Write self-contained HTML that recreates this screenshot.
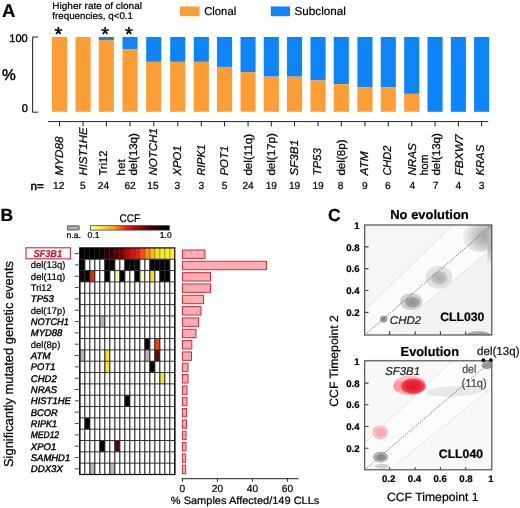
<!DOCTYPE html>
<html lang="en">
<head>
<meta charset="utf-8">
<title>Figure: clonal and subclonal driver events in CLL</title>
<style>
html,body{margin:0;padding:0;background:#fff;}
body{width:520px;height:508px;overflow:hidden;}
svg{display:block;font-family:"Liberation Sans", Arial, Helvetica, sans-serif;text-rendering:geometricPrecision;filter:blur(0.35px);}
text{stroke-width:0.22px;}
</style>
</head>
<body>
<svg width="520" height="508" viewBox="0 0 520 508">
<defs>
<linearGradient id="ccf" x1="0" x2="1" y1="0" y2="0">
<stop offset="0" stop-color="#fdfdc8"/><stop offset="0.12" stop-color="#f8f040"/>
<stop offset="0.3" stop-color="#f8a018"/><stop offset="0.45" stop-color="#f02010"/>
<stop offset="0.62" stop-color="#900808"/><stop offset="0.8" stop-color="#300000"/>
<stop offset="1" stop-color="#000"/></linearGradient>
<radialGradient id="gA" cx="0.68" cy="0.5" r="0.62"><stop offset="0" stop-color="#a6a6a6"/><stop offset="0.45" stop-color="#c2c2c2"/><stop offset="0.85" stop-color="#e2e2e2"/><stop offset="1" stop-color="#ececec"/></radialGradient>
<linearGradient id="gE" x1="0" x2="0" y1="0" y2="1"><stop offset="0" stop-color="#b4b4b4"/><stop offset="0.6" stop-color="#bcbcbc"/><stop offset="1" stop-color="#f1f1f1"/></linearGradient>
<radialGradient id="gR"><stop offset="0" stop-color="#e6182a"/><stop offset="0.6" stop-color="#ea2436"/><stop offset="0.85" stop-color="#f04454"/><stop offset="1" stop-color="#f4707c"/></radialGradient>
<radialGradient id="gB"><stop offset="0" stop-color="#ababab"/><stop offset="1" stop-color="#c6c6c6"/></radialGradient>
<radialGradient id="gC"><stop offset="0" stop-color="#909090"/><stop offset="1" stop-color="#a8a8a8"/></radialGradient>
</defs>
<rect width="520" height="508" fill="#fff"/>
<g id="panelA">
<text x="2" y="17" font-size="18.5" font-weight="bold" stroke="#000">A</text>
<text x="52.3" y="8.8" font-size="9.6" stroke="#000" textLength="89.7" lengthAdjust="spacingAndGlyphs">Higher rate of clonal</text>
<text x="52.3" y="19.4" font-size="9.6" stroke="#000" textLength="80.7" lengthAdjust="spacingAndGlyphs">frequencies, q&lt;0.1</text>
<rect x="180" y="6.5" width="19.6" height="9.7" fill="#FD9D36"/>
<text x="204.2" y="14.7" font-size="11.3" stroke="#000" textLength="32" lengthAdjust="spacingAndGlyphs">Clonal</text>
<rect x="270.8" y="6.5" width="19.2" height="9.7" fill="#0D84F8"/>
<text x="294.6" y="14.7" font-size="11.5" stroke="#000" textLength="51.2" lengthAdjust="spacingAndGlyphs">Subclonal</text>
<path d="M38.2 37 H32.6 V112.2 H38.2" fill="none" stroke="#222" stroke-width="1"/>
<text x="27.7" y="42.2" font-size="11" text-anchor="end" stroke="#000" style="stroke-width:0.4px">100</text>
<text x="27.9" y="112" font-size="11" text-anchor="end" stroke="#000" style="stroke-width:0.4px">0</text>
<text x="2" y="79.5" font-size="15.5" stroke="#000" style="stroke-width:0.45px">%</text>
<path d="M48 121.6 H488.2" fill="none" stroke="#222" stroke-width="1"/>
<rect x="52.00" y="37.00" width="15.1" height="74.80" fill="#FD9D36"/>
<path d="M59.55 121.6 V126.5" stroke="#222" stroke-width="1"/>
<text x="58.35" y="40.8" font-size="20" text-anchor="middle" stroke="#000" style="stroke-width:0.4px">*</text>
<text x="63.15" y="175.6" font-size="11.3" font-style="italic" stroke="#000" transform="rotate(-90 63.15 175.6)" textLength="39.2" lengthAdjust="spacingAndGlyphs">MYD88</text>
<text x="58.75" y="189.3" font-size="10.2" text-anchor="middle" stroke="#000">12</text>
<rect x="75.50" y="37.00" width="15.1" height="74.80" fill="#FD9D36"/>
<path d="M83.05 121.6 V126.5" stroke="#222" stroke-width="1"/>
<text x="86.65" y="175.6" font-size="11.3" font-style="italic" stroke="#000" transform="rotate(-90 86.65 175.6)" textLength="48.2" lengthAdjust="spacingAndGlyphs">HIST1HE</text>
<text x="82.75" y="189.3" font-size="10.2" text-anchor="middle" stroke="#000">5</text>
<rect x="98.80" y="37.0" width="15.1" height="2.99" fill="#0D84F8"/>
<rect x="98.80" y="39.99" width="15.1" height="71.81" fill="#FD9D36"/>
<path d="M106.35 121.6 V126.5" stroke="#222" stroke-width="1"/>
<text x="105.15" y="40.8" font-size="20" text-anchor="middle" stroke="#000" style="stroke-width:0.4px">*</text>
<text x="107.25" y="175.6" font-size="11.3" stroke="#000" transform="rotate(-90 107.25 175.6)" textLength="25" lengthAdjust="spacingAndGlyphs">Tri12</text>
<text x="103.45" y="189.3" font-size="10.2" text-anchor="middle" stroke="#000">24</text>
<rect x="122.50" y="37.0" width="15.1" height="11.97" fill="#0D84F8"/>
<rect x="122.50" y="48.97" width="15.1" height="62.83" fill="#FD9D36"/>
<path d="M130.05 121.6 V126.5" stroke="#222" stroke-width="1"/>
<text x="128.85" y="40.8" font-size="20" text-anchor="middle" stroke="#000" style="stroke-width:0.4px">*</text>
<text x="125.05" y="175.6" font-size="11.3" stroke="#000" transform="rotate(-90 125.05 175.6)" textLength="16.3" lengthAdjust="spacingAndGlyphs">het</text>
<text x="136.65" y="175.6" font-size="11.3" stroke="#000" transform="rotate(-90 136.65 175.6)" textLength="42.5" lengthAdjust="spacingAndGlyphs">del(13q)</text>
<text x="130.05" y="189.3" font-size="10.2" text-anchor="middle" stroke="#000">62</text>
<rect x="146.20" y="37.0" width="15.1" height="24.83" fill="#0D84F8"/>
<rect x="146.20" y="61.83" width="15.1" height="49.97" fill="#FD9D36"/>
<path d="M153.75 121.6 V126.5" stroke="#222" stroke-width="1"/>
<text x="157.35" y="175.6" font-size="11.3" font-style="italic" stroke="#000" transform="rotate(-90 157.35 175.6)" textLength="47.5" lengthAdjust="spacingAndGlyphs">NOTCH1</text>
<text x="152.95" y="189.3" font-size="10.2" text-anchor="middle" stroke="#000">15</text>
<rect x="170.20" y="37.0" width="15.1" height="24.83" fill="#0D84F8"/>
<rect x="170.20" y="61.83" width="15.1" height="49.97" fill="#FD9D36"/>
<path d="M177.75 121.6 V126.5" stroke="#222" stroke-width="1"/>
<text x="181.35" y="175.6" font-size="11.3" font-style="italic" stroke="#000" transform="rotate(-90 181.35 175.6)" textLength="30" lengthAdjust="spacingAndGlyphs">XPO1</text>
<text x="177.35" y="189.3" font-size="10.2" text-anchor="middle" stroke="#000">3</text>
<rect x="193.75" y="37.0" width="15.1" height="24.83" fill="#0D84F8"/>
<rect x="193.75" y="61.83" width="15.1" height="49.97" fill="#FD9D36"/>
<path d="M201.30 121.6 V126.5" stroke="#222" stroke-width="1"/>
<text x="204.90" y="175.6" font-size="11.3" font-style="italic" stroke="#000" transform="rotate(-90 204.90 175.6)" textLength="31.2" lengthAdjust="spacingAndGlyphs">RIPK1</text>
<text x="201.30" y="189.3" font-size="10.2" text-anchor="middle" stroke="#000">3</text>
<rect x="217.00" y="37.0" width="15.1" height="29.92" fill="#0D84F8"/>
<rect x="217.00" y="66.92" width="15.1" height="44.88" fill="#FD9D36"/>
<path d="M224.55 121.6 V126.5" stroke="#222" stroke-width="1"/>
<text x="228.15" y="175.6" font-size="11.3" font-style="italic" stroke="#000" transform="rotate(-90 228.15 175.6)" textLength="30" lengthAdjust="spacingAndGlyphs">POT1</text>
<text x="224.55" y="189.3" font-size="10.2" text-anchor="middle" stroke="#000">5</text>
<rect x="240.50" y="37.0" width="15.1" height="35.16" fill="#0D84F8"/>
<rect x="240.50" y="72.16" width="15.1" height="39.64" fill="#FD9D36"/>
<path d="M248.05 121.6 V126.5" stroke="#222" stroke-width="1"/>
<text x="251.55" y="175.6" font-size="11.3" stroke="#000" transform="rotate(-90 251.55 175.6)" textLength="41.8" lengthAdjust="spacingAndGlyphs">del(11q)</text>
<text x="248.05" y="189.3" font-size="10.2" text-anchor="middle" stroke="#000">24</text>
<rect x="263.75" y="37.0" width="15.1" height="39.64" fill="#0D84F8"/>
<rect x="263.75" y="76.64" width="15.1" height="35.16" fill="#FD9D36"/>
<path d="M271.30 121.6 V126.5" stroke="#222" stroke-width="1"/>
<text x="274.60" y="175.6" font-size="11.3" stroke="#000" transform="rotate(-90 274.60 175.6)" textLength="42.5" lengthAdjust="spacingAndGlyphs">del(17p)</text>
<text x="271.30" y="189.3" font-size="10.2" text-anchor="middle" stroke="#000">19</text>
<rect x="287.00" y="37.0" width="15.1" height="39.64" fill="#0D84F8"/>
<rect x="287.00" y="76.64" width="15.1" height="35.16" fill="#FD9D36"/>
<path d="M294.55 121.6 V126.5" stroke="#222" stroke-width="1"/>
<text x="298.15" y="175.6" font-size="11.3" font-style="italic" stroke="#000" transform="rotate(-90 298.15 175.6)" textLength="35.8" lengthAdjust="spacingAndGlyphs">SF3B1</text>
<text x="294.55" y="189.3" font-size="10.2" text-anchor="middle" stroke="#000">19</text>
<rect x="310.50" y="37.0" width="15.1" height="43.38" fill="#0D84F8"/>
<rect x="310.50" y="80.38" width="15.1" height="31.42" fill="#FD9D36"/>
<path d="M318.05 121.6 V126.5" stroke="#222" stroke-width="1"/>
<text x="321.45" y="175.6" font-size="11.3" font-style="italic" stroke="#000" transform="rotate(-90 321.45 175.6)" textLength="27.5" lengthAdjust="spacingAndGlyphs">TP53</text>
<text x="318.05" y="189.3" font-size="10.2" text-anchor="middle" stroke="#000">19</text>
<rect x="333.75" y="37.0" width="15.1" height="47.12" fill="#0D84F8"/>
<rect x="333.75" y="84.12" width="15.1" height="27.68" fill="#FD9D36"/>
<path d="M341.30 121.6 V126.5" stroke="#222" stroke-width="1"/>
<text x="344.60" y="175.6" font-size="11.3" stroke="#000" transform="rotate(-90 344.60 175.6)" textLength="36.2" lengthAdjust="spacingAndGlyphs">del(8p)</text>
<text x="340.60" y="189.3" font-size="10.2" text-anchor="middle" stroke="#000">8</text>
<rect x="357.40" y="37.0" width="15.1" height="50.12" fill="#0D84F8"/>
<rect x="357.40" y="87.12" width="15.1" height="24.68" fill="#FD9D36"/>
<path d="M364.95 121.6 V126.5" stroke="#222" stroke-width="1"/>
<text x="367.95" y="175.6" font-size="11.3" font-style="italic" stroke="#000" transform="rotate(-90 367.95 175.6)" textLength="24.2" lengthAdjust="spacingAndGlyphs">ATM</text>
<text x="364.95" y="189.3" font-size="10.2" text-anchor="middle" stroke="#000">9</text>
<rect x="380.75" y="37.0" width="15.1" height="50.12" fill="#0D84F8"/>
<rect x="380.75" y="87.12" width="15.1" height="24.68" fill="#FD9D36"/>
<path d="M388.30 121.6 V126.5" stroke="#222" stroke-width="1"/>
<text x="391.50" y="175.6" font-size="11.3" font-style="italic" stroke="#000" transform="rotate(-90 391.50 175.6)" textLength="30" lengthAdjust="spacingAndGlyphs">CHD2</text>
<text x="387.80" y="189.3" font-size="10.2" text-anchor="middle" stroke="#000">6</text>
<rect x="404.20" y="37.0" width="15.1" height="56.85" fill="#0D84F8"/>
<rect x="404.20" y="93.85" width="15.1" height="17.95" fill="#FD9D36"/>
<path d="M411.75 121.6 V126.5" stroke="#222" stroke-width="1"/>
<text x="415.95" y="175.6" font-size="11.3" font-style="italic" stroke="#000" transform="rotate(-90 415.95 175.6)" textLength="32.5" lengthAdjust="spacingAndGlyphs">NRAS</text>
<text x="412.45" y="189.3" font-size="10.2" text-anchor="middle" stroke="#000">4</text>
<rect x="427.50" y="37.0" width="15.1" height="74.80" fill="#0D84F8"/>
<path d="M435.05 121.6 V126.5" stroke="#222" stroke-width="1"/>
<text x="428.35" y="175.6" font-size="11.3" stroke="#000" transform="rotate(-90 428.35 175.6)" textLength="21.2" lengthAdjust="spacingAndGlyphs">hom</text>
<text x="440.25" y="175.6" font-size="11.3" stroke="#000" transform="rotate(-90 440.25 175.6)" textLength="42.5" lengthAdjust="spacingAndGlyphs">del(13q)</text>
<text x="435.55" y="189.3" font-size="10.2" text-anchor="middle" stroke="#000">7</text>
<rect x="450.80" y="37.0" width="15.1" height="74.80" fill="#0D84F8"/>
<path d="M458.35 121.6 V126.5" stroke="#222" stroke-width="1"/>
<text x="462.55" y="175.6" font-size="11.3" font-style="italic" stroke="#000" transform="rotate(-90 462.55 175.6)" textLength="41.2" lengthAdjust="spacingAndGlyphs">FBXW7</text>
<text x="458.35" y="189.3" font-size="10.2" text-anchor="middle" stroke="#000">4</text>
<rect x="474.10" y="37.0" width="15.1" height="74.80" fill="#0D84F8"/>
<path d="M481.65 121.6 V126.5" stroke="#222" stroke-width="1"/>
<text x="483.85" y="175.6" font-size="11.3" font-style="italic" stroke="#000" transform="rotate(-90 483.85 175.6)" textLength="30.8" lengthAdjust="spacingAndGlyphs">KRAS</text>
<text x="481.65" y="189.3" font-size="10.2" text-anchor="middle" stroke="#000">3</text>
<text x="30.5" y="189.5" font-size="11.5" stroke="#000" textLength="13.2" lengthAdjust="spacingAndGlyphs" style="stroke-width:0.55px">n=</text>
</g>
<g id="panelB">
<text x="0.5" y="221" font-size="17.5" font-weight="bold" stroke="#000">B</text>
<text x="119.5" y="221.7" font-size="11.2" stroke="#000" textLength="20.6" lengthAdjust="spacingAndGlyphs">CCF</text>
<rect x="67.4" y="225.9" width="11.8" height="4" rx="0.8" fill="#b2b2b2" stroke="#686868" stroke-width="1.1"/>
<rect x="90.4" y="225.7" width="79" height="4.4" fill="url(#ccf)" stroke="#333" stroke-width="0.7"/>
<text x="66.5" y="238.4" font-size="8.6" stroke="#000">n.a.</text>
<text x="87.5" y="238.4" font-size="8.6" stroke="#000">0.1</text>
<text x="159.8" y="238.4" font-size="8.6" stroke="#000">1.0</text>
<text x="13.2" y="467" font-size="13" stroke="#000" transform="rotate(-90 13.2 467)" textLength="206" lengthAdjust="spacingAndGlyphs">Significantly mutated genetic events</text>
<rect x="79.8" y="247.9" width="95.0" height="226.60" fill="#fff"/>
<rect x="79.80" y="247.90" width="5.0" height="11.33" fill="#000"/>
<rect x="84.80" y="247.90" width="5.0" height="11.33" fill="#000"/>
<rect x="89.80" y="247.90" width="5.0" height="11.33" fill="#000"/>
<rect x="94.80" y="247.90" width="5.0" height="11.33" fill="#000"/>
<rect x="99.80" y="247.90" width="5.0" height="11.33" fill="#140000"/>
<rect x="104.80" y="247.90" width="5.0" height="11.33" fill="#300000"/>
<rect x="109.80" y="247.90" width="5.0" height="11.33" fill="#3c0000"/>
<rect x="114.80" y="247.90" width="5.0" height="11.33" fill="#5a0000"/>
<rect x="119.80" y="247.90" width="5.0" height="11.33" fill="#800000"/>
<rect x="124.80" y="247.90" width="5.0" height="11.33" fill="#b40808"/>
<rect x="129.80" y="247.90" width="5.0" height="11.33" fill="#dc1010"/>
<rect x="134.80" y="247.90" width="5.0" height="11.33" fill="#f01818"/>
<rect x="139.80" y="247.90" width="5.0" height="11.33" fill="#f25210"/>
<rect x="144.80" y="247.90" width="5.0" height="11.33" fill="#f68c1c"/>
<rect x="149.80" y="247.90" width="5.0" height="11.33" fill="#f8b41c"/>
<rect x="154.80" y="247.90" width="5.0" height="11.33" fill="#f6e020"/>
<rect x="159.80" y="247.90" width="5.0" height="11.33" fill="#f8ec20"/>
<rect x="164.80" y="247.90" width="5.0" height="11.33" fill="#f8f020"/>
<rect x="169.80" y="247.90" width="5.0" height="11.33" fill="#f8f028"/>
<rect x="79.80" y="259.23" width="5.0" height="11.33" fill="#000"/>
<rect x="104.80" y="259.23" width="5.0" height="11.33" fill="#000"/>
<rect x="109.80" y="259.23" width="5.0" height="11.33" fill="#000"/>
<rect x="124.80" y="259.23" width="5.0" height="11.33" fill="#000"/>
<rect x="129.80" y="259.23" width="5.0" height="11.33" fill="#000"/>
<rect x="134.80" y="259.23" width="5.0" height="11.33" fill="#000"/>
<rect x="149.80" y="259.23" width="5.0" height="11.33" fill="#000"/>
<rect x="154.80" y="259.23" width="5.0" height="11.33" fill="#000"/>
<rect x="159.80" y="259.23" width="5.0" height="11.33" fill="#000"/>
<rect x="164.80" y="259.23" width="5.0" height="11.33" fill="#000"/>
<rect x="79.80" y="270.56" width="5.0" height="11.33" fill="#000"/>
<rect x="84.80" y="270.56" width="5.0" height="11.33" fill="#000"/>
<rect x="104.80" y="270.56" width="5.0" height="11.33" fill="#000"/>
<rect x="119.80" y="270.56" width="5.0" height="11.33" fill="#000"/>
<rect x="134.80" y="270.56" width="5.0" height="11.33" fill="#000"/>
<rect x="159.80" y="270.56" width="5.0" height="11.33" fill="#000"/>
<rect x="164.80" y="270.56" width="5.0" height="11.33" fill="#000"/>
<rect x="89.80" y="270.56" width="5.0" height="11.33" fill="#f02808"/>
<rect x="114.80" y="270.56" width="5.0" height="11.33" fill="#fbf6b8"/>
<rect x="139.80" y="270.56" width="5.0" height="11.33" fill="#fbf6b0"/>
<rect x="149.80" y="270.56" width="5.0" height="11.33" fill="#f6e616"/>
<rect x="99.80" y="315.88" width="5.0" height="11.33" fill="#b4b4b4"/>
<rect x="144.80" y="338.54" width="5.0" height="11.33" fill="#000"/>
<rect x="154.80" y="338.54" width="5.0" height="11.33" fill="#f04808"/>
<rect x="79.80" y="349.87" width="5.0" height="11.33" fill="#b4b4b4"/>
<rect x="104.80" y="349.87" width="5.0" height="11.33" fill="#f4e428"/>
<rect x="144.80" y="349.87" width="5.0" height="11.33" fill="#b4b4b4"/>
<rect x="154.80" y="349.87" width="5.0" height="11.33" fill="#600808"/>
<rect x="104.80" y="361.20" width="5.0" height="11.33" fill="#f4e428"/>
<rect x="149.80" y="361.20" width="5.0" height="11.33" fill="#000"/>
<rect x="159.80" y="372.53" width="5.0" height="11.33" fill="#f4e438"/>
<rect x="124.80" y="395.19" width="5.0" height="11.33" fill="#000"/>
<rect x="84.80" y="417.85" width="5.0" height="11.33" fill="#000"/>
<rect x="99.80" y="440.51" width="5.0" height="11.33" fill="#000"/>
<rect x="114.80" y="440.51" width="5.0" height="11.33" fill="#500808"/>
<rect x="89.80" y="463.17" width="5.0" height="11.33" fill="#b8b8b8"/>
<rect x="109.80" y="463.17" width="5.0" height="11.33" fill="#b8b8b8"/>
<path d="M79.80 259.23V474.50M84.80 259.23V474.50M89.80 259.23V474.50M94.80 259.23V474.50M99.80 259.23V474.50M104.80 259.23V474.50M109.80 259.23V474.50M114.80 259.23V474.50M119.80 259.23V474.50M124.80 259.23V474.50M129.80 259.23V474.50M134.80 259.23V474.50M139.80 259.23V474.50M144.80 259.23V474.50M149.80 259.23V474.50M154.80 259.23V474.50M159.80 259.23V474.50M164.80 259.23V474.50M169.80 259.23V474.50M174.80 259.23V474.50" fill="none" stroke="#202020" stroke-width="1.12"/>
<path d="M79.8 259.23H174.8M79.8 270.56H174.8M79.8 281.89H174.8M79.8 293.22H174.8M79.8 304.55H174.8M79.8 315.88H174.8M79.8 327.21H174.8M79.8 338.54H174.8M79.8 349.87H174.8M79.8 361.20H174.8M79.8 372.53H174.8M79.8 383.86H174.8M79.8 395.19H174.8M79.8 406.52H174.8M79.8 417.85H174.8M79.8 429.18H174.8M79.8 440.51H174.8M79.8 451.84H174.8M79.8 463.17H174.8M79.8 474.50H174.8" fill="none" stroke="#2c2c2c" stroke-width="0.95"/>
<path d="M84.80 247.9V259.23M89.80 247.9V259.23M94.80 247.9V259.23M99.80 247.9V259.23M104.80 247.9V259.23M109.80 247.9V259.23M114.80 247.9V259.23M119.80 247.9V259.23M124.80 247.9V259.23M129.80 247.9V259.23M134.80 247.9V259.23M139.80 247.9V259.23M144.80 247.9V259.23M149.80 247.9V259.23M154.80 247.9V259.23M159.80 247.9V259.23M164.80 247.9V259.23M169.80 247.9V259.23" fill="none" stroke="#000" stroke-opacity="0.38" stroke-width="1.0"/>
<rect x="79.8" y="247.9" width="95.0" height="226.60" fill="none" stroke="#0a0a0a" stroke-width="1.2"/>
<path d="M74.8 253.56H79.8" stroke="#4a5858" stroke-width="1.05"/>
<rect x="26" y="247.8" width="44.4" height="11" fill="#fff" stroke="#d0283c" stroke-width="1.1"/>
<text x="33.4" y="257" font-size="10" font-weight="bold" font-style="italic" fill="#d01830" stroke="#d01830" textLength="28.8" lengthAdjust="spacingAndGlyphs">SF3B1</text>
<rect x="182.4" y="249.97" width="22.6" height="8.4" fill="#fbaeb2" stroke="#d82838" stroke-width="1"/>
<path d="M74.8 264.89H79.8" stroke="#4a5858" stroke-width="1.05"/>
<text x="30.8" y="268.29" font-size="9.6" stroke="#000" textLength="34.5" lengthAdjust="spacingAndGlyphs">del(13q)</text>
<rect x="182.4" y="261.29" width="84" height="8.4" fill="#fbaeb2" stroke="#d82838" stroke-width="1"/>
<path d="M74.8 276.23H79.8" stroke="#4a5858" stroke-width="1.05"/>
<text x="30.8" y="279.62" font-size="9.6" stroke="#000" textLength="34.5" lengthAdjust="spacingAndGlyphs">del(11q)</text>
<rect x="182.4" y="272.62" width="28.1" height="8.4" fill="#fbaeb2" stroke="#d82838" stroke-width="1"/>
<path d="M74.8 287.56H79.8" stroke="#4a5858" stroke-width="1.05"/>
<text x="30.8" y="290.95" font-size="9.6" stroke="#000" textLength="21" lengthAdjust="spacingAndGlyphs">Tri12</text>
<rect x="182.4" y="283.95" width="28.1" height="8.4" fill="#fbaeb2" stroke="#d82838" stroke-width="1"/>
<path d="M74.8 298.88H79.8" stroke="#4a5858" stroke-width="1.05"/>
<text x="30.8" y="302.28" font-size="9.6" font-style="italic" stroke="#000" textLength="23" lengthAdjust="spacingAndGlyphs" style="stroke-width:0.4px">TP53</text>
<rect x="182.4" y="295.28" width="21.2" height="8.4" fill="#fbaeb2" stroke="#d82838" stroke-width="1"/>
<path d="M74.8 310.22H79.8" stroke="#4a5858" stroke-width="1.05"/>
<text x="30.8" y="313.62" font-size="9.6" stroke="#000" textLength="34.5" lengthAdjust="spacingAndGlyphs">del(17p)</text>
<rect x="182.4" y="306.62" width="18.6" height="8.4" fill="#fbaeb2" stroke="#d82838" stroke-width="1"/>
<path d="M74.8 321.55H79.8" stroke="#4a5858" stroke-width="1.05"/>
<text x="30.8" y="324.94" font-size="9.6" font-style="italic" stroke="#000" textLength="38.2" lengthAdjust="spacingAndGlyphs" style="stroke-width:0.4px">NOTCH1</text>
<rect x="182.4" y="317.94" width="16.2" height="8.4" fill="#fbaeb2" stroke="#d82838" stroke-width="1"/>
<path d="M74.8 332.88H79.8" stroke="#4a5858" stroke-width="1.05"/>
<text x="30.8" y="336.27" font-size="9.6" font-style="italic" stroke="#000" textLength="31.5" lengthAdjust="spacingAndGlyphs" style="stroke-width:0.4px">MYD88</text>
<rect x="182.4" y="329.27" width="13.6" height="8.4" fill="#fbaeb2" stroke="#d82838" stroke-width="1"/>
<path d="M74.8 344.21H79.8" stroke="#4a5858" stroke-width="1.05"/>
<text x="30.8" y="347.61" font-size="9.6" stroke="#000" textLength="29.5" lengthAdjust="spacingAndGlyphs">del(8p)</text>
<rect x="182.4" y="340.61" width="9.4" height="8.4" fill="#fbaeb2" stroke="#d82838" stroke-width="1"/>
<path d="M74.8 355.54H79.8" stroke="#4a5858" stroke-width="1.05"/>
<text x="30.8" y="358.94" font-size="9.6" font-style="italic" stroke="#000" textLength="19.7" lengthAdjust="spacingAndGlyphs" style="stroke-width:0.4px">ATM</text>
<rect x="182.4" y="351.94" width="9.1" height="8.4" fill="#fbaeb2" stroke="#d82838" stroke-width="1"/>
<path d="M74.8 366.87H79.8" stroke="#4a5858" stroke-width="1.05"/>
<text x="30.8" y="370.26" font-size="9.6" font-style="italic" stroke="#000" textLength="24.6" lengthAdjust="spacingAndGlyphs" style="stroke-width:0.4px">POT1</text>
<rect x="182.4" y="363.26" width="5.6" height="8.4" fill="#fbaeb2" stroke="#d82838" stroke-width="1"/>
<path d="M74.8 378.19H79.8" stroke="#4a5858" stroke-width="1.05"/>
<text x="30.8" y="381.59" font-size="9.6" font-style="italic" stroke="#000" textLength="25.9" lengthAdjust="spacingAndGlyphs" style="stroke-width:0.4px">CHD2</text>
<rect x="182.4" y="374.59" width="5.6" height="8.4" fill="#fbaeb2" stroke="#d82838" stroke-width="1"/>
<path d="M74.8 389.52H79.8" stroke="#4a5858" stroke-width="1.05"/>
<text x="30.8" y="392.92" font-size="9.6" font-style="italic" stroke="#000" textLength="26.4" lengthAdjust="spacingAndGlyphs" style="stroke-width:0.4px">NRAS</text>
<rect x="182.4" y="385.92" width="4.6" height="8.4" fill="#fbaeb2" stroke="#d82838" stroke-width="1"/>
<path d="M74.8 400.86H79.8" stroke="#4a5858" stroke-width="1.05"/>
<text x="30.8" y="404.25" font-size="9.6" font-style="italic" stroke="#000" textLength="40.1" lengthAdjust="spacingAndGlyphs" style="stroke-width:0.4px">HIST1HE</text>
<rect x="182.4" y="397.25" width="4.6" height="8.4" fill="#fbaeb2" stroke="#d82838" stroke-width="1"/>
<path d="M74.8 412.19H79.8" stroke="#4a5858" stroke-width="1.05"/>
<text x="30.8" y="415.58" font-size="9.6" font-style="italic" stroke="#000" textLength="27.1" lengthAdjust="spacingAndGlyphs" style="stroke-width:0.4px">BCOR</text>
<rect x="182.4" y="408.58" width="4.1" height="8.4" fill="#fbaeb2" stroke="#d82838" stroke-width="1"/>
<path d="M74.8 423.51H79.8" stroke="#4a5858" stroke-width="1.05"/>
<text x="30.8" y="426.91" font-size="9.6" font-style="italic" stroke="#000" textLength="26.4" lengthAdjust="spacingAndGlyphs" style="stroke-width:0.4px">RIPK1</text>
<rect x="182.4" y="419.91" width="4.1" height="8.4" fill="#fbaeb2" stroke="#d82838" stroke-width="1"/>
<path d="M74.8 434.85H79.8" stroke="#4a5858" stroke-width="1.05"/>
<text x="30.8" y="438.25" font-size="9.6" font-style="italic" stroke="#000" textLength="28.3" lengthAdjust="spacingAndGlyphs" style="stroke-width:0.4px">MED12</text>
<rect x="182.4" y="431.25" width="3.6" height="8.4" fill="#fbaeb2" stroke="#d82838" stroke-width="1"/>
<path d="M74.8 446.18H79.8" stroke="#4a5858" stroke-width="1.05"/>
<text x="30.8" y="449.57" font-size="9.6" font-style="italic" stroke="#000" textLength="25.4" lengthAdjust="spacingAndGlyphs" style="stroke-width:0.4px">XPO1</text>
<rect x="182.4" y="442.57" width="3.6" height="8.4" fill="#fbaeb2" stroke="#d82838" stroke-width="1"/>
<path d="M74.8 457.50H79.8" stroke="#4a5858" stroke-width="1.05"/>
<text x="30.8" y="460.90" font-size="9.6" font-style="italic" stroke="#000" textLength="39.4" lengthAdjust="spacingAndGlyphs" style="stroke-width:0.4px">SAMHD1</text>
<rect x="182.4" y="453.90" width="3.3" height="8.4" fill="#fbaeb2" stroke="#d82838" stroke-width="1"/>
<path d="M74.8 468.84H79.8" stroke="#4a5858" stroke-width="1.05"/>
<text x="30.8" y="472.24" font-size="9.6" font-style="italic" stroke="#000" textLength="32" lengthAdjust="spacingAndGlyphs" style="stroke-width:0.4px">DDX3X</text>
<rect x="182.4" y="465.24" width="3.3" height="8.4" fill="#fbaeb2" stroke="#d82838" stroke-width="1"/>
<path d="M181.5 478.7H298.5M182.4 478.7v3M217.4 478.7v3M252.4 478.7v3M287.4 478.7v3" fill="none" stroke="#222" stroke-width="1"/>
<text x="182.4" y="491.6" font-size="10.2" text-anchor="middle" stroke="#000">0</text>
<text x="217.4" y="491.6" font-size="10.2" text-anchor="middle" stroke="#000">20</text>
<text x="252.4" y="491.6" font-size="10.2" text-anchor="middle" stroke="#000">40</text>
<text x="287.4" y="491.6" font-size="10.2" text-anchor="middle" stroke="#000">60</text>
<text x="170.8" y="504.2" font-size="10.6" stroke="#000" textLength="148.6" lengthAdjust="spacingAndGlyphs">% Samples Affected/149 CLLs</text>
</g>
<g id="panelC">
<text x="328" y="221.2" font-size="17.5" font-weight="bold" stroke="#000">C</text>
<text x="429.5" y="219" font-size="13" font-weight="bold" text-anchor="middle" stroke="#000" textLength="78.5" lengthAdjust="spacingAndGlyphs">No evolution</text>
<text x="400.6" y="356" font-size="13" font-weight="bold" stroke="#000" textLength="58.4" lengthAdjust="spacingAndGlyphs">Evolution</text>
<text x="338" y="406.7" font-size="12" stroke="#000" transform="rotate(-90 338 406.7)" textLength="91.4" lengthAdjust="spacingAndGlyphs">CCF Timepoint 2</text>
<text x="387" y="500.6" font-size="12" stroke="#000" textLength="91.5" lengthAdjust="spacingAndGlyphs">CCF Timepoint 1</text>
<clipPath id="cp1"><rect x="364.7" y="225.0" width="127.10000000000002" height="110.0"/></clipPath>
<rect x="364.7" y="225.0" width="127.10000000000002" height="110.0" fill="#f6f6f6"/>
<g clip-path="url(#cp1)">
<polygon points="386.9,335.0 491.8,249 491.8,335.0" fill="#f3f3f3"/>
<polygon points="364.7,335.0 364.7,310.2 452.9,225.0 491.8,225.0 491.8,249 386.9,335.0" fill="#fcfcfc"/>
<path d="M364.7 310.2L452.9 225.0M386.9 335.0L491.8 249" stroke="#dadada" stroke-width="0.8" fill="none"/>
<ellipse cx="479.5" cy="236.5" rx="16.5" ry="15.5" fill="url(#gA)"/>
<rect x="487.5" y="225.0" width="4.5" height="40" fill="url(#gE)"/>
<ellipse cx="478.5" cy="335.6" rx="12.5" ry="4.3" fill="#a6a6a6"/>
<ellipse cx="438.9" cy="277.4" rx="13.5" ry="11.3" fill="#e1e1e1"/>
<ellipse cx="439.4" cy="278" rx="8.2" ry="6.8" fill="url(#gB)"/>
<ellipse cx="411.2" cy="301.6" rx="11.3" ry="8.7" fill="#d2d2d2"/>
<ellipse cx="412.4" cy="302.2" rx="7.6" ry="5.5" fill="url(#gC)"/>
<ellipse cx="383.7" cy="319.1" rx="3.9" ry="3.7" fill="#aaa"/>
<ellipse cx="383.7" cy="319.1" rx="2.2" ry="2.1" fill="#8a8a8a"/>
<path d="M364.7 335.0L491.8 225.0" stroke="#5a5a5a" stroke-width="0.8" stroke-dasharray="1.5 1.3" fill="none"/>
</g>
<rect x="364.7" y="225.0" width="127.10000000000002" height="110.0" fill="none" stroke="#4a3e3e" stroke-width="1.1"/>
<text x="359.6" y="228.79999999999998" font-size="9.6" font-weight="bold" text-anchor="end" stroke="#000">1</text>
<text x="359.6" y="250.5" font-size="9.6" font-weight="bold" text-anchor="end" stroke="#000">0.8</text>
<text x="359.6" y="272.20000000000005" font-size="9.6" font-weight="bold" text-anchor="end" stroke="#000">0.6</text>
<text x="359.6" y="294.1" font-size="9.6" font-weight="bold" text-anchor="end" stroke="#000">0.4</text>
<text x="359.6" y="316.0" font-size="9.6" font-weight="bold" text-anchor="end" stroke="#000">0.2</text>
<path d="M364.7 246.9h3.8M364.7 268.6h3.8M364.7 290.5h3.8M364.7 312.4h3.8M389.6 335.0v-3.8M415.2 335.0v-3.8M440.4 335.0v-3.8M465.7 335.0v-3.8" stroke="#4a3e3e" stroke-width="1.1" fill="none"/>
<text x="389.8" y="323.6" font-size="11.2" font-style="italic" fill="#222" stroke="#222" textLength="31.5" lengthAdjust="spacingAndGlyphs">CHD2</text>
<text x="440.2" y="321.2" font-size="12.2" font-weight="bold" stroke="#000" textLength="44.2" lengthAdjust="spacingAndGlyphs">CLL030</text>
<clipPath id="cp2"><rect x="364.7" y="360.8" width="127.10000000000002" height="109.0"/></clipPath>
<rect x="364.7" y="360.8" width="127.10000000000002" height="109.0" fill="#f9f9f9"/>
<g clip-path="url(#cp2)">
<polygon points="364.7,469.8 364.7,443 452.3,360.8 491.8,360.8 491.8,387.7 389.2,469.8" fill="#fdfdfd"/>
<path d="M364.7 443L452.3 360.8M389.2 469.8L491.8 387.7" stroke="#dedede" stroke-width="0.8" fill="none"/>
<ellipse cx="454.6" cy="391.2" rx="28.4" ry="5.3" fill="#e8e8e8" transform="rotate(-3 454.6 391.2)"/>
<ellipse cx="487" cy="365.4" rx="5.4" ry="3.8" fill="#9c9c9c"/>
<ellipse cx="380.3" cy="432.3" rx="8" ry="6.9" fill="#f9c2c7"/>
<ellipse cx="380.8" cy="432.6" rx="5" ry="4.3" fill="#f6acb3"/>
<ellipse cx="380.6" cy="457" rx="7.7" ry="5.4" fill="#b2b2b2"/>
<ellipse cx="381" cy="457.2" rx="4.6" ry="3" fill="#8e8e8e"/>
<ellipse cx="382" cy="466.2" rx="7.2" ry="2.5" fill="#d2d2d2"/>
<ellipse cx="409.7" cy="385.4" rx="16.5" ry="10" fill="#fac0c6"/>
<ellipse cx="399.5" cy="386.2" rx="6" ry="5.6" fill="#f79aa4"/>
<ellipse cx="413" cy="386.2" rx="12.6" ry="8" fill="url(#gR)"/>
<path d="M364.7 469.8L491.8 360.8" stroke="#5a5a5a" stroke-width="0.8" stroke-dasharray="1.5 1.3" fill="none"/>
</g>
<rect x="364.7" y="360.8" width="127.10000000000002" height="109.0" fill="none" stroke="#4a3e3e" stroke-width="1.1"/>
<text x="359.6" y="364.8" font-size="9.6" font-weight="bold" text-anchor="end" stroke="#000">1</text>
<text x="359.6" y="386.70000000000005" font-size="9.6" font-weight="bold" text-anchor="end" stroke="#000">0.8</text>
<text x="359.6" y="408.40000000000003" font-size="9.6" font-weight="bold" text-anchor="end" stroke="#000">0.6</text>
<text x="359.6" y="430.1" font-size="9.6" font-weight="bold" text-anchor="end" stroke="#000">0.4</text>
<text x="359.6" y="451.8" font-size="9.6" font-weight="bold" text-anchor="end" stroke="#000">0.2</text>
<path d="M364.7 383.1h3.8M364.7 404.8h3.8M364.7 426.5h3.8M364.7 448.2h3.8M389.6 469.8v-2.5M415.2 469.8v-2.5M440.4 469.8v-2.5M465.7 469.8v-2.5" stroke="#4a3e3e" stroke-width="1.1" fill="none"/>
<text x="388.6" y="481.7" font-size="9.6" font-weight="bold" text-anchor="middle" stroke="#000">0.2</text>
<text x="414.5" y="481.7" font-size="9.6" font-weight="bold" text-anchor="middle" stroke="#000">0.4</text>
<text x="440.2" y="481.7" font-size="9.6" font-weight="bold" text-anchor="middle" stroke="#000">0.6</text>
<text x="466" y="481.7" font-size="9.6" font-weight="bold" text-anchor="middle" stroke="#000">0.8</text>
<text x="490.8" y="481.7" font-size="9.6" font-weight="bold" text-anchor="middle" stroke="#000">1</text>
<text x="385.2" y="375.4" font-size="11.4" font-style="italic" fill="#222" stroke="#222" textLength="34.8" lengthAdjust="spacingAndGlyphs">SF3B1</text>
<text x="438.8" y="457.8" font-size="12.2" font-weight="bold" stroke="#000" textLength="44.2" lengthAdjust="spacingAndGlyphs">CLL040</text>
<text x="477" y="355.4" font-size="11.6" fill="#111" stroke="#111" textLength="42.6" lengthAdjust="spacingAndGlyphs">del(13q)</text>
<circle cx="483.4" cy="360.2" r="1.9" fill="#000"/><circle cx="490.8" cy="360.2" r="1.9" fill="#000"/>
<text x="462.2" y="373.2" font-size="11.6" fill="#484848" stroke="#484848" textLength="14.2" lengthAdjust="spacingAndGlyphs">del</text>
<text x="461.6" y="386.8" font-size="11.6" fill="#484848" stroke="#484848" textLength="25.2" lengthAdjust="spacingAndGlyphs">(11q)</text>
</g>
</svg>
</body>
</html>
